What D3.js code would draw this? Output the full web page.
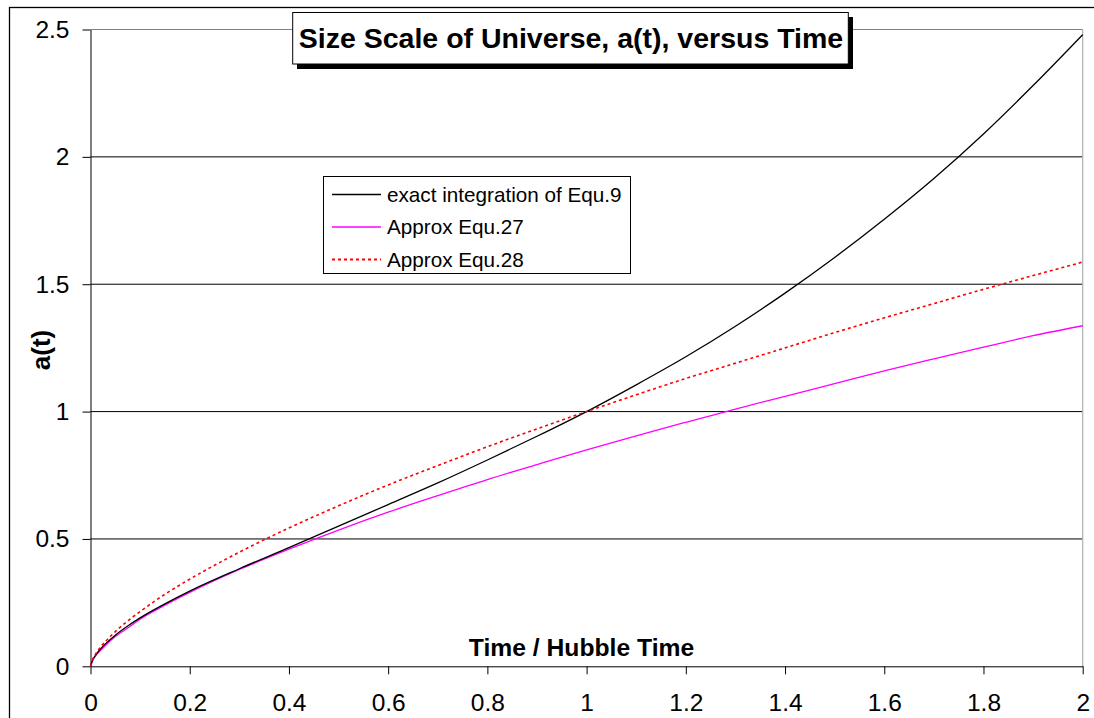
<!DOCTYPE html>
<meta charset="utf-8">
<style>
body { margin: 0; background: #fff; }
svg { display: block; font-family: "Liberation Sans", Arial, sans-serif; }
.axis .domain { stroke: #000; }
.axis line { stroke: #000; }
</style>
<svg width="1094" height="718"></svg>
<script src="https://cdn.jsdelivr.net/npm/d3@7/dist/d3.min.js"></script>
<script>

// values
var times    = [0, 0.005, 0.01, 0.02, 0.03, 0.05, 0.075, 0.1, 0.15, 0.2, 0.3, 0.4, 0.5, 0.6, 0.7, 0.8, 0.9, 1.0, 1.1, 1.2, 1.3, 1.4, 1.5, 1.6, 1.7, 1.8, 1.9, 2.0];
var exact    = [0, 0.028, 0.043, 0.068, 0.088, 0.122, 0.158, 0.19, 0.245, 0.295, 0.383, 0.466, 0.55, 0.635, 0.72, 0.81, 0.903, 1.0, 1.105, 1.215, 1.335, 1.465, 1.605, 1.755, 1.915, 2.09, 2.28, 2.48];
var approx27 = [0, 0.025, 0.04, 0.062, 0.082, 0.117, 0.15, 0.185, 0.24, 0.29, 0.38, 0.46, 0.535, 0.605, 0.67, 0.733, 0.792, 0.85, 0.905, 0.958, 1.01, 1.06, 1.11, 1.16, 1.207, 1.253, 1.298, 1.337];
var approx28 = [0, 0.03, 0.047, 0.075, 0.097, 0.136, 0.178, 0.215, 0.283, 0.342, 0.448, 0.543, 0.63, 0.712, 0.788, 0.862, 0.932, 1.0, 1.066, 1.13, 1.19, 1.25, 1.31, 1.368, 1.424, 1.48, 1.534, 1.587];

var xTicks = [0, 0.2, 0.4, 0.6, 0.8, 1, 1.2, 1.4, 1.6, 1.8, 2];
var yTicks = [0, 0.5, 1, 1.5, 2, 2.5];

var seriesNames = ["exact integration of Equ.9", "Approx Equ.27", "Approx Equ.28"];

var svg = d3.select("svg");

var x = d3.scaleLinear().domain([0, 2]).range([90.5, 1082.7]);
var y = d3.scaleLinear().domain([0, 2.5]).range([666.3, 29.5]);

// outer chart frame (runs off the picture at right and bottom)
svg.append("rect")
    .attr("x", 9.5).attr("y", 7.5)
    .attr("width", 1200).attr("height", 800)
    .attr("fill", "none").attr("stroke", "#000").attr("stroke-width", 1.3);

// gridlines
svg.append("g")
  .selectAll("line")
  .data(yTicks.slice(1))
  .enter().append("line")
    .attr("x1", x(0)).attr("x2", x(2))
    .attr("y1", function(d) { return y(d); })
    .attr("y2", function(d) { return y(d); })
    .attr("stroke", function(d) { return d == 2.5 ? "#808080" : "#000"; })
    .attr("stroke-width", 1);

// right border of plot area
svg.append("line")
    .attr("x1", x(2)).attr("x2", x(2))
    .attr("y1", y(2.5)).attr("y2", y(0))
    .attr("stroke", "#b0b0b0").attr("stroke-width", 1.2);

var xAxis = svg.append("g")
    .attr("class", "axis")
    .attr("transform", "translate(0," + y(0) + ")")
    .call(d3.axisBottom(x).tickValues(xTicks).tickSize(8).tickSizeOuter(0).tickFormat(d3.format("")));
xAxis.selectAll("text")
    .attr("font-size", 24.5).attr("fill", "#000")
    .attr("font-family", "'Liberation Sans', Arial, sans-serif")
    .attr("y", 36).attr("dy", "0.35em");

var yAxis = svg.append("g")
    .attr("class", "axis")
    .attr("transform", "translate(" + x(0) + ",0)")
    .call(d3.axisLeft(y).tickValues(yTicks).tickSize(8).tickSizeOuter(0).tickFormat(d3.format("")));
yAxis.selectAll("text")
    .attr("font-size", 24.5).attr("fill", "#000")
    .attr("font-family", "'Liberation Sans', Arial, sans-serif")
    .attr("x", -21);

// curves
var line = d3.line()
    .x(function(d) { return x(d[0]); })
    .y(function(d) { return y(d[1]); })
    .curve(d3.curveMonotoneX);

function pairs(vals) { return times.map(function(t, i) { return [t, vals[i]]; }); }

svg.append("path")
    .datum(pairs(approx27))
    .attr("d", line)
    .attr("fill", "none").attr("stroke", "#ff00ff").attr("stroke-width", 1.3);

svg.append("path")
    .datum(pairs(exact))
    .attr("d", line)
    .attr("fill", "none").attr("stroke", "#000").attr("stroke-width", 1.3);

svg.append("path")
    .datum(pairs(approx28))
    .attr("d", line)
    .attr("fill", "none").attr("stroke", "#ff0000").attr("stroke-width", 1.6)
    .attr("stroke-dasharray", "3,3");

// title box with shadow
svg.append("rect")
    .attr("x", 297).attr("y", 17).attr("width", 556).attr("height", 52)
    .attr("fill", "#000");
svg.append("rect")
    .attr("x", 292.7).attr("y", 12.5).attr("width", 555.6).attr("height", 51.5)
    .attr("fill", "#fff").attr("stroke", "#000").attr("stroke-width", 1);
svg.append("text")
    .attr("x", 571).attr("y", 47.5)
    .attr("text-anchor", "middle")
    .attr("font-weight", "bold").attr("font-size", 28.5)
    .text("Size Scale of Universe, a(t), versus Time");

// axis titles
svg.append("text")
    .attr("x", 581.5).attr("y", 656)
    .attr("text-anchor", "middle")
    .attr("font-weight", "bold").attr("font-size", 24.7)
    .text("Time / Hubble Time");

svg.append("text")
    .attr("transform", "translate(50,350) rotate(-90)")
    .attr("text-anchor", "middle")
    .attr("font-weight", "bold").attr("font-size", 26)
    .text("a(t)");

// legend
var legend = svg.append("g").attr("transform", "translate(323,176)");
legend.append("rect")
    .attr("x", 0.5).attr("y", 0.5).attr("width", 307).attr("height", 97)
    .attr("fill", "#fff").attr("stroke", "#000").attr("stroke-width", 1);

var styles = [
  {color: "#000", dash: null, width: 1.3},
  {color: "#ff00ff", dash: null, width: 1.3},
  {color: "#ff0000", dash: "3,3", width: 1.8}
];

var item = legend.selectAll("g.item")
    .data(seriesNames)
    .enter().append("g")
    .attr("class", "item")
    .attr("transform", function(d, i) { return "translate(0," + (18.5 + i * 32.5) + ")"; });

item.append("line")
    .attr("x1", 9).attr("x2", 58)
    .attr("stroke", function(d, i) { return styles[i].color; })
    .attr("stroke-width", function(d, i) { return styles[i].width; })
    .attr("stroke-dasharray", function(d, i) { return styles[i].dash; });

item.append("text")
    .attr("x", 64).attr("dy", "0.36em")
    .attr("font-size", 20.7)
    .text(function(d) { return d; });

</script>
